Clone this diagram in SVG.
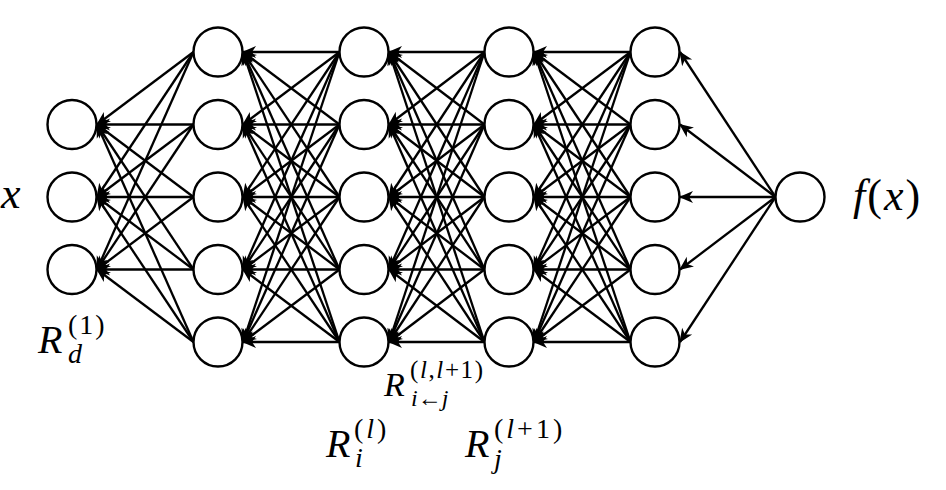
<svg xmlns="http://www.w3.org/2000/svg" width="946" height="490" viewBox="0 0 946 490">
<style>
.n{fill:#fff;stroke:#000;stroke-width:2.4}
.e{stroke:#000;stroke-width:2.3;fill:none;marker-end:url(#ah)}
</style>
<defs>
<marker id="ah" markerUnits="userSpaceOnUse" orient="auto" refX="0" refY="0" markerWidth="18" markerHeight="14" viewBox="-16 -7 18 14" overflow="visible">
<path d="M1,0 L-13,-6 L-9,0 L-13,6 Z" fill="#000"/>
</marker>
</defs>
<g id="connectors">
<line class="e" x1="193.5" y1="52" x2="97" y2="124.5"/>
<line class="e" x1="193.5" y1="124.5" x2="97" y2="124.5"/>
<line class="e" x1="193.5" y1="197" x2="97" y2="124.5"/>
<line class="e" x1="193.5" y1="269.5" x2="97" y2="124.5"/>
<line class="e" x1="193.5" y1="342" x2="97" y2="124.5"/>
<line class="e" x1="193.5" y1="52" x2="97" y2="197"/>
<line class="e" x1="193.5" y1="124.5" x2="97" y2="197"/>
<line class="e" x1="193.5" y1="197" x2="97" y2="197"/>
<line class="e" x1="193.5" y1="269.5" x2="97" y2="197"/>
<line class="e" x1="193.5" y1="342" x2="97" y2="197"/>
<line class="e" x1="193.5" y1="52" x2="97" y2="269.5"/>
<line class="e" x1="193.5" y1="124.5" x2="97" y2="269.5"/>
<line class="e" x1="193.5" y1="197" x2="97" y2="269.5"/>
<line class="e" x1="193.5" y1="269.5" x2="97" y2="269.5"/>
<line class="e" x1="193.5" y1="342" x2="97" y2="269.5"/>
<line class="e" x1="339.5" y1="52" x2="243" y2="52"/>
<line class="e" x1="339.5" y1="124.5" x2="243" y2="52"/>
<line class="e" x1="339.5" y1="197" x2="243" y2="52"/>
<line class="e" x1="339.5" y1="269.5" x2="243" y2="52"/>
<line class="e" x1="339.5" y1="342" x2="243" y2="52"/>
<line class="e" x1="339.5" y1="52" x2="243" y2="124.5"/>
<line class="e" x1="339.5" y1="124.5" x2="243" y2="124.5"/>
<line class="e" x1="339.5" y1="197" x2="243" y2="124.5"/>
<line class="e" x1="339.5" y1="269.5" x2="243" y2="124.5"/>
<line class="e" x1="339.5" y1="342" x2="243" y2="124.5"/>
<line class="e" x1="339.5" y1="52" x2="243" y2="197"/>
<line class="e" x1="339.5" y1="124.5" x2="243" y2="197"/>
<line class="e" x1="339.5" y1="197" x2="243" y2="197"/>
<line class="e" x1="339.5" y1="269.5" x2="243" y2="197"/>
<line class="e" x1="339.5" y1="342" x2="243" y2="197"/>
<line class="e" x1="339.5" y1="52" x2="243" y2="269.5"/>
<line class="e" x1="339.5" y1="124.5" x2="243" y2="269.5"/>
<line class="e" x1="339.5" y1="197" x2="243" y2="269.5"/>
<line class="e" x1="339.5" y1="269.5" x2="243" y2="269.5"/>
<line class="e" x1="339.5" y1="342" x2="243" y2="269.5"/>
<line class="e" x1="339.5" y1="52" x2="243" y2="342"/>
<line class="e" x1="339.5" y1="124.5" x2="243" y2="342"/>
<line class="e" x1="339.5" y1="197" x2="243" y2="342"/>
<line class="e" x1="339.5" y1="269.5" x2="243" y2="342"/>
<line class="e" x1="339.5" y1="342" x2="243" y2="342"/>
<line class="e" x1="484.5" y1="52" x2="389" y2="52"/>
<line class="e" x1="484.5" y1="124.5" x2="389" y2="52"/>
<line class="e" x1="484.5" y1="197" x2="389" y2="52"/>
<line class="e" x1="484.5" y1="269.5" x2="389" y2="52"/>
<line class="e" x1="484.5" y1="342" x2="389" y2="52"/>
<line class="e" x1="484.5" y1="52" x2="389" y2="124.5"/>
<line class="e" x1="484.5" y1="124.5" x2="389" y2="124.5"/>
<line class="e" x1="484.5" y1="197" x2="389" y2="124.5"/>
<line class="e" x1="484.5" y1="269.5" x2="389" y2="124.5"/>
<line class="e" x1="484.5" y1="342" x2="389" y2="124.5"/>
<line class="e" x1="484.5" y1="52" x2="389" y2="197"/>
<line class="e" x1="484.5" y1="124.5" x2="389" y2="197"/>
<line class="e" x1="484.5" y1="197" x2="389" y2="197"/>
<line class="e" x1="484.5" y1="269.5" x2="389" y2="197"/>
<line class="e" x1="484.5" y1="342" x2="389" y2="197"/>
<line class="e" x1="484.5" y1="52" x2="389" y2="269.5"/>
<line class="e" x1="484.5" y1="124.5" x2="389" y2="269.5"/>
<line class="e" x1="484.5" y1="197" x2="389" y2="269.5"/>
<line class="e" x1="484.5" y1="269.5" x2="389" y2="269.5"/>
<line class="e" x1="484.5" y1="342" x2="389" y2="269.5"/>
<line class="e" x1="484.5" y1="52" x2="389" y2="342"/>
<line class="e" x1="484.5" y1="124.5" x2="389" y2="342"/>
<line class="e" x1="484.5" y1="197" x2="389" y2="342"/>
<line class="e" x1="484.5" y1="269.5" x2="389" y2="342"/>
<line class="e" x1="484.5" y1="342" x2="389" y2="342"/>
<line class="e" x1="630.5" y1="52" x2="534" y2="52"/>
<line class="e" x1="630.5" y1="124.5" x2="534" y2="52"/>
<line class="e" x1="630.5" y1="197" x2="534" y2="52"/>
<line class="e" x1="630.5" y1="269.5" x2="534" y2="52"/>
<line class="e" x1="630.5" y1="342" x2="534" y2="52"/>
<line class="e" x1="630.5" y1="52" x2="534" y2="124.5"/>
<line class="e" x1="630.5" y1="124.5" x2="534" y2="124.5"/>
<line class="e" x1="630.5" y1="197" x2="534" y2="124.5"/>
<line class="e" x1="630.5" y1="269.5" x2="534" y2="124.5"/>
<line class="e" x1="630.5" y1="342" x2="534" y2="124.5"/>
<line class="e" x1="630.5" y1="52" x2="534" y2="197"/>
<line class="e" x1="630.5" y1="124.5" x2="534" y2="197"/>
<line class="e" x1="630.5" y1="197" x2="534" y2="197"/>
<line class="e" x1="630.5" y1="269.5" x2="534" y2="197"/>
<line class="e" x1="630.5" y1="342" x2="534" y2="197"/>
<line class="e" x1="630.5" y1="52" x2="534" y2="269.5"/>
<line class="e" x1="630.5" y1="124.5" x2="534" y2="269.5"/>
<line class="e" x1="630.5" y1="197" x2="534" y2="269.5"/>
<line class="e" x1="630.5" y1="269.5" x2="534" y2="269.5"/>
<line class="e" x1="630.5" y1="342" x2="534" y2="269.5"/>
<line class="e" x1="630.5" y1="52" x2="534" y2="342"/>
<line class="e" x1="630.5" y1="124.5" x2="534" y2="342"/>
<line class="e" x1="630.5" y1="197" x2="534" y2="342"/>
<line class="e" x1="630.5" y1="269.5" x2="534" y2="342"/>
<line class="e" x1="630.5" y1="342" x2="534" y2="342"/>
<line class="e" x1="775.5" y1="197" x2="680" y2="52"/>
<line class="e" x1="775.5" y1="197" x2="680" y2="124.5"/>
<line class="e" x1="775.5" y1="197" x2="680" y2="197"/>
<line class="e" x1="775.5" y1="197" x2="680" y2="269.5"/>
<line class="e" x1="775.5" y1="197" x2="680" y2="342"/>
</g>
<g id="layer1">
<circle id="n1_1" class="n" cx="72" cy="124.5" r="24.5"/>
<circle id="n1_2" class="n" cx="72" cy="197" r="24.5"/>
<circle id="n1_3" class="n" cx="72" cy="269.5" r="24.5"/>
</g>
<g id="layer2">
<circle id="n2_1" class="n" cx="218" cy="52" r="24.5"/>
<circle id="n2_2" class="n" cx="218" cy="124.5" r="24.5"/>
<circle id="n2_3" class="n" cx="218" cy="197" r="24.5"/>
<circle id="n2_4" class="n" cx="218" cy="269.5" r="24.5"/>
<circle id="n2_5" class="n" cx="218" cy="342" r="24.5"/>
</g>
<g id="layer3">
<circle id="n3_1" class="n" cx="364" cy="52" r="24.5"/>
<circle id="n3_2" class="n" cx="364" cy="124.5" r="24.5"/>
<circle id="n3_3" class="n" cx="364" cy="197" r="24.5"/>
<circle id="n3_4" class="n" cx="364" cy="269.5" r="24.5"/>
<circle id="n3_5" class="n" cx="364" cy="342" r="24.5"/>
</g>
<g id="layer4">
<circle id="n4_1" class="n" cx="509" cy="52" r="24.5"/>
<circle id="n4_2" class="n" cx="509" cy="124.5" r="24.5"/>
<circle id="n4_3" class="n" cx="509" cy="197" r="24.5"/>
<circle id="n4_4" class="n" cx="509" cy="269.5" r="24.5"/>
<circle id="n4_5" class="n" cx="509" cy="342" r="24.5"/>
</g>
<g id="layer5">
<circle id="n5_1" class="n" cx="655" cy="52" r="24.5"/>
<circle id="n5_2" class="n" cx="655" cy="124.5" r="24.5"/>
<circle id="n5_3" class="n" cx="655" cy="197" r="24.5"/>
<circle id="n5_4" class="n" cx="655" cy="269.5" r="24.5"/>
<circle id="n5_5" class="n" cx="655" cy="342" r="24.5"/>
</g>
<g id="output">
<circle id="out" class="n" cx="800" cy="197" r="24.5"/>
</g>
<g id="labels" font-family="Liberation Serif, Times New Roman, serif" fill="#000">
<text x="1" y="208" font-size="44" font-style="italic">x</text>
<text x="853" y="210" font-size="44" letter-spacing="2"><tspan font-style="italic">f</tspan>(<tspan font-style="italic">x</tspan>)</text>
<text x="38" y="353" font-size="40" font-style="italic">R</text>
<text x="68" y="334" font-size="28" letter-spacing="2">(1)</text>
<text x="68" y="363" font-size="28" font-style="italic">d</text>
<text x="384" y="396" font-size="34" font-style="italic">R</text>
<text x="410" y="378" font-size="25" letter-spacing="1.6">(<tspan font-style="italic">l</tspan>,<tspan font-style="italic">l</tspan>+1)</text>
<text x="411" y="406" font-size="24"><tspan font-style="italic">i</tspan>←<tspan font-style="italic">j</tspan></text>
<text x="326" y="457" font-size="40" font-style="italic">R</text>
<text x="354" y="438" font-size="28" letter-spacing="3">(<tspan font-style="italic">l</tspan>)</text>
<text x="355" y="467" font-size="28" font-style="italic">i</text>
<text x="465" y="457" font-size="40" font-style="italic">R</text>
<text x="494" y="438" font-size="28" letter-spacing="3">(<tspan font-style="italic">l</tspan>+1)</text>
<text x="494" y="468" font-size="28" font-style="italic">j</text>
</g>
</svg>
